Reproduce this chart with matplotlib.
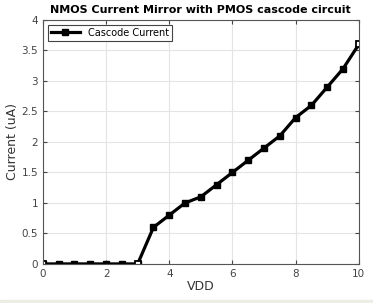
import matplotlib.pyplot as plt
from matplotlib.patches import Rectangle

# VDD sweep and measured cascode current (uA)
vdd = [0, 0.5, 1, 1.5, 2, 2.5, 3, 3.5, 4, 4.5, 5, 5.5, 6, 6.5, 7, 7.5, 8, 8.5, 9, 9.5, 10]
current = [0, 0, 0, 0, 0, 0, 0, 0.6, 0.8, 1.0, 1.1, 1.3, 1.5, 1.7, 1.9, 2.1, 2.4, 2.6, 2.9, 3.2, 3.6]
hollow_ids = [0, 6, 20]

fig = plt.figure(figsize=(3.73, 3.03), dpi=100)
ax = fig.add_axes([0.115, 0.129, 0.847, 0.805])

ax.plot(vdd, current, color='black', linewidth=2.3, marker='s', markersize=4,
        markerfacecolor='black', label='Cascode Current')
ax.plot([vdd[i] for i in hollow_ids], [current[i] for i in hollow_ids], linestyle='none',
        marker='s', markersize=4, markerfacecolor='white', markeredgecolor='black', markeredgewidth=1.3)

ax.set_xlim(0, 10)
ax.set_ylim(0, 4)
ax.set_xticks([0, 2, 4, 6, 8, 10])
ax.set_yticks([0, 0.5, 1, 1.5, 2, 2.5, 3, 3.5, 4])
ax.set_yticklabels(['0', '0.5', '1', '1.5', '2', '2.5', '3', '3.5', '4'])
ax.grid(True, color='#e4e4e4', linewidth=0.8)
ax.tick_params(labelsize=7.5, colors='#444444', length=3, direction='in', top=True, right=True)
for s in ax.spines.values():
    s.set_color('#555555')
    s.set_linewidth(0.8)

ax.set_xlabel('VDD', fontsize=9, color='#333333', labelpad=1)
ax.set_ylabel('Current (uA)', fontsize=9, color='#333333', labelpad=2)
ax.set_title('NMOS Current Mirror with PMOS cascode circuit', fontsize=8,
             fontweight='bold', pad=5)

leg = ax.legend(loc='upper left', fontsize=7, fancybox=False, framealpha=1,
                edgecolor='#444444', handlelength=3, borderpad=0.3, borderaxespad=0.5)
leg.get_frame().set_linewidth(0.8)

fig.patches.append(Rectangle((0, 0), 1, 3 / 303, transform=fig.transFigure,
                             color='#eceee6', zorder=0))

fig.savefig('out.png', dpi=100)
